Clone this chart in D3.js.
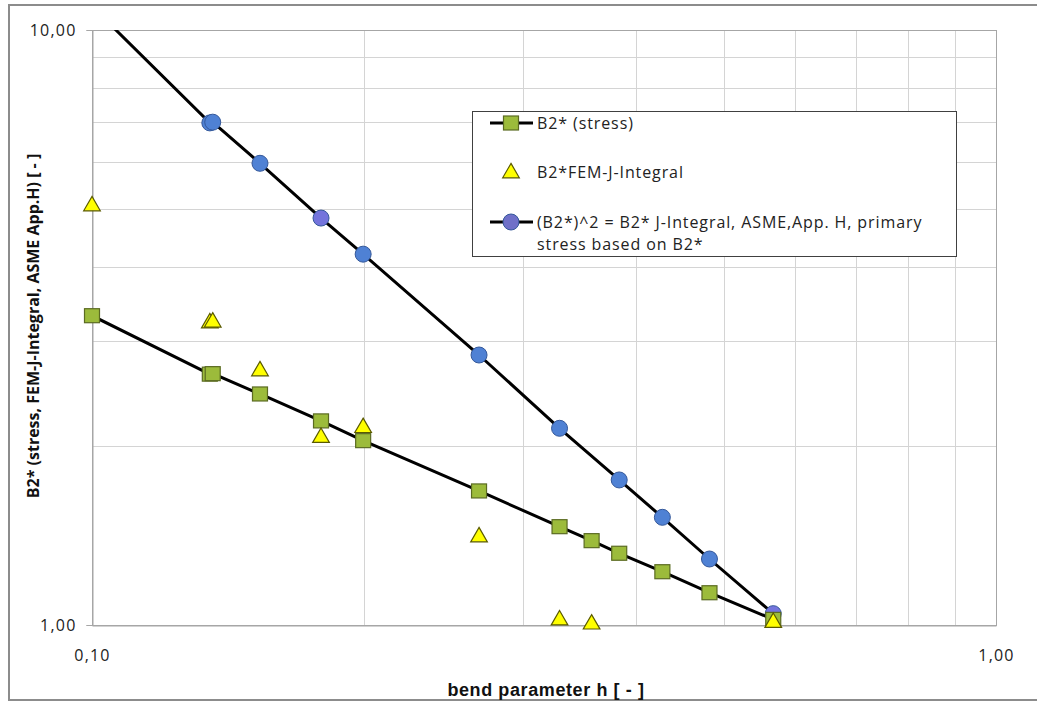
<!DOCTYPE html>
<html>
<head>
<meta charset="utf-8">
<script src="https://cdn.jsdelivr.net/npm/d3@7"></script>
<style>
  body { margin: 0; background: #fff; }
  svg { display: block; }
</style>
</head>
<body>
<div id="chart"></div>
<script>
// bend parameter h, B2* from stress
const hStress = [0.100, 0.135, 0.136, 0.1534, 0.1792, 0.1995, 0.268, 0.329, 0.357, 0.383, 0.4275, 0.482, 0.567];
const b2Stress = [3.31, 2.64, 2.645, 2.445, 2.203, 2.041, 1.680, 1.463, 1.386, 1.320, 1.229, 1.133, 1.022];

// B2* from FEM J-integral (markers only)
const hFem = [0.100, 0.135, 0.136, 0.1534, 0.1792, 0.1995, 0.268, 0.329, 0.357, 0.567];
const b2Fem = [5.08, 3.23, 3.24, 2.683, 2.073, 2.154, 1.411, 1.023, 1.007, 1.013];

// (B2*)^2, ASME App. H
const hAsme = [0.100, 0.135, 0.136, 0.1534, 0.1792, 0.1995, 0.268, 0.329, 0.383, 0.4275, 0.482, 0.567];
const b2Asme = [10.96, 6.98, 7.0, 5.97, 4.83, 4.20, 2.843, 2.141, 1.753, 1.517, 1.291, 1.045];

const xTicks = [0.1, 1];
const yTicks = [1, 10];
const xMinor = [0.2, 0.3, 0.4, 0.5, 0.6, 0.7, 0.8, 0.9];
const yMinor = [2, 3, 4, 5, 6, 7, 8, 9];

const legendLabels = [
  ["B2* (stress)"],
  ["B2*FEM-J-Integral"],
  ["(B2*)^2 = B2* J-Integral, ASME,App. H, primary", "stress based on B2*"]
];

const width = 1037, height = 702;
const plot = {left: 92, right: 996, top: 30, bottom: 625};
const fmt = d => d.toFixed(2).replace(".", ",");

const svg = d3.select("#chart").append("svg")
  .attr("width", width)
  .attr("height", height);

svg.append("rect").attr("width", width).attr("height", height).attr("fill", "#fff");

// outer chart frame
svg.append("rect")
  .attr("x", 9).attr("y", 5)
  .attr("width", 1060).attr("height", 695)
  .attr("fill", "none")
  .attr("stroke", "#8c8c8c")
  .attr("stroke-width", 2);

const x = d3.scaleLog().domain([0.1, 1]).range([plot.left, plot.right]);
const y = d3.scaleLog().domain([1, 10]).range([plot.bottom, plot.top]);

// grid
const grid = svg.append("g").attr("stroke", "#d4d4d4").attr("stroke-width", 1);
grid.selectAll(".vx").data(xMinor).enter().append("line")
  .attr("x1", d => Math.round(x(d)) + 0.5).attr("x2", d => Math.round(x(d)) + 0.5)
  .attr("y1", plot.top).attr("y2", plot.bottom);
grid.selectAll(".hy").data(yMinor).enter().append("line")
  .attr("y1", d => Math.round(y(d)) + 0.5).attr("y2", d => Math.round(y(d)) + 0.5)
  .attr("x1", plot.left).attr("x2", plot.right);

// plot frame
svg.append("rect")
  .attr("x", plot.left + 0.5).attr("y", plot.top + 0.5)
  .attr("width", plot.right - plot.left).attr("height", plot.bottom - plot.top)
  .attr("fill", "none")
  .attr("stroke", "#a6a6a6");

// axes
const yAxis = svg.append("g")
  .attr("transform", `translate(${plot.left + 0.5},0)`)
  .call(d3.axisLeft(y).tickValues(yTicks).tickFormat(fmt).tickSize(6).tickPadding(10));
const xAxis = svg.append("g")
  .attr("transform", `translate(0,${plot.bottom + 0.5})`)
  .call(d3.axisBottom(x).tickValues(xTicks).tickFormat(fmt).tickSize(0).tickPadding(24));
[xAxis, yAxis].forEach(a => {
  a.select(".domain").attr("stroke", "#a6a6a6");
  a.selectAll(".tick line").attr("stroke", "#a6a6a6");
  a.selectAll("text")
    .attr("fill", "#222")
    .style("font-family", "'Open Sans', sans-serif")
    .style("font-size", "16px")
    .style("letter-spacing", "1.2px");
});

// axis titles
svg.append("text")
  .attr("x", 546).attr("y", 696)
  .attr("text-anchor", "middle")
  .style("font-family", "'Liberation Sans Narrow', 'Liberation Sans', sans-serif")
  .style("font-weight", "bold")
  .style("font-size", "18px")
  .style("letter-spacing", "0.6px")
  .attr("fill", "#111")
  .text("bend parameter h [ - ]");

svg.append("text")
  .attr("transform", "translate(39,326) rotate(-90)")
  .attr("text-anchor", "middle")
  .style("font-family", "'Open Sans', sans-serif")
  .style("font-weight", "bold")
  .style("font-size", "16px")
  .attr("fill", "#111")
  .text("B2* (stress, FEM-J-Integral, ASME App.H) [ - ]");

// clip lines to plot area
svg.append("clipPath").attr("id", "plotClip")
  .append("rect")
  .attr("x", plot.left).attr("y", plot.top)
  .attr("width", plot.right - plot.left).attr("height", plot.bottom - plot.top);

const line = d3.line().x(d => x(d[0])).y(d => y(d[1]));
const stressPts = hStress.map((h, i) => [h, b2Stress[i]]);
const femPts = hFem.map((h, i) => [h, b2Fem[i]]);
const asmePts = hAsme.map((h, i) => [h, b2Asme[i]]);
const inside = d => d[1] <= 10 && d[1] >= 1;

const sqFill = "#9cbb3b", sqStroke = "#5b6b22";
const triFill = "#ffff00", triStroke = "#5a5a00";
const circFill = "#4f81d4", circStroke = "#34589a";
const circAlt = "#7474dc";
const altIdx = new Set([4, 11]);

const triangle = d3.symbol().type(d3.symbolTriangle).size(120);

function drawSquare(g, cx, cy) {
  g.append("rect")
    .attr("x", cx - 7.5).attr("y", cy - 7)
    .attr("width", 15).attr("height", 14)
    .attr("fill", sqFill).attr("stroke", sqStroke).attr("stroke-width", 1.2);
}
function drawTriangle(g, cx, cy) {
  g.append("path")
    .attr("d", triangle())
    .attr("transform", `translate(${cx},${cy + 1})`)
    .attr("fill", triFill).attr("stroke", triStroke).attr("stroke-width", 1.2);
}
function drawCircle(g, cx, cy, fill) {
  g.append("circle")
    .attr("cx", cx).attr("cy", cy).attr("r", 8)
    .attr("fill", fill).attr("stroke", circStroke).attr("stroke-width", 1);
}

// series lines
svg.append("path").datum(asmePts)
  .attr("clip-path", "url(#plotClip)")
  .attr("d", line).attr("fill", "none").attr("stroke", "#000").attr("stroke-width", 3);
svg.append("path").datum(stressPts)
  .attr("clip-path", "url(#plotClip)")
  .attr("d", line).attr("fill", "none").attr("stroke", "#000").attr("stroke-width", 3);

// markers
const marks = svg.append("g");
asmePts.forEach((d, i) => {
  if (inside(d)) drawCircle(marks, x(d[0]), y(d[1]), altIdx.has(i) ? circAlt : circFill);
});
stressPts.forEach(d => { if (inside(d)) drawSquare(marks, x(d[0]), y(d[1])); });
femPts.forEach(d => { if (inside(d)) drawTriangle(marks, x(d[0]), y(d[1])); });

// legend
const lg = svg.append("g");
lg.append("rect")
  .attr("x", 472.5).attr("y", 111.5)
  .attr("width", 484).attr("height", 145)
  .attr("fill", "#fff").attr("stroke", "#404040").attr("stroke-width", 1);

const rowY = [123, 172, 222];
rowY.forEach((ry, i) => {
  if (i !== 1) {
    lg.append("line")
      .attr("x1", 490).attr("x2", 533).attr("y1", ry).attr("y2", ry)
      .attr("stroke", "#000").attr("stroke-width", 3);
  }
  if (i === 0) drawSquare(lg, 511, ry);
  if (i === 1) drawTriangle(lg, 511, ry);
  if (i === 2) drawCircle(lg, 511, ry, "#6f70c8");
  legendLabels[i].forEach((t, k) => {
    lg.append("text")
      .attr("x", 537).attr("y", ry + 6 + k * 22)
      .style("font-family", "'Open Sans', sans-serif")
      .style("font-size", "16px")
      .style("letter-spacing", "0.9px")
      .attr("fill", "#222")
      .text(t);
  });
});
</script>
</body>
</html>
